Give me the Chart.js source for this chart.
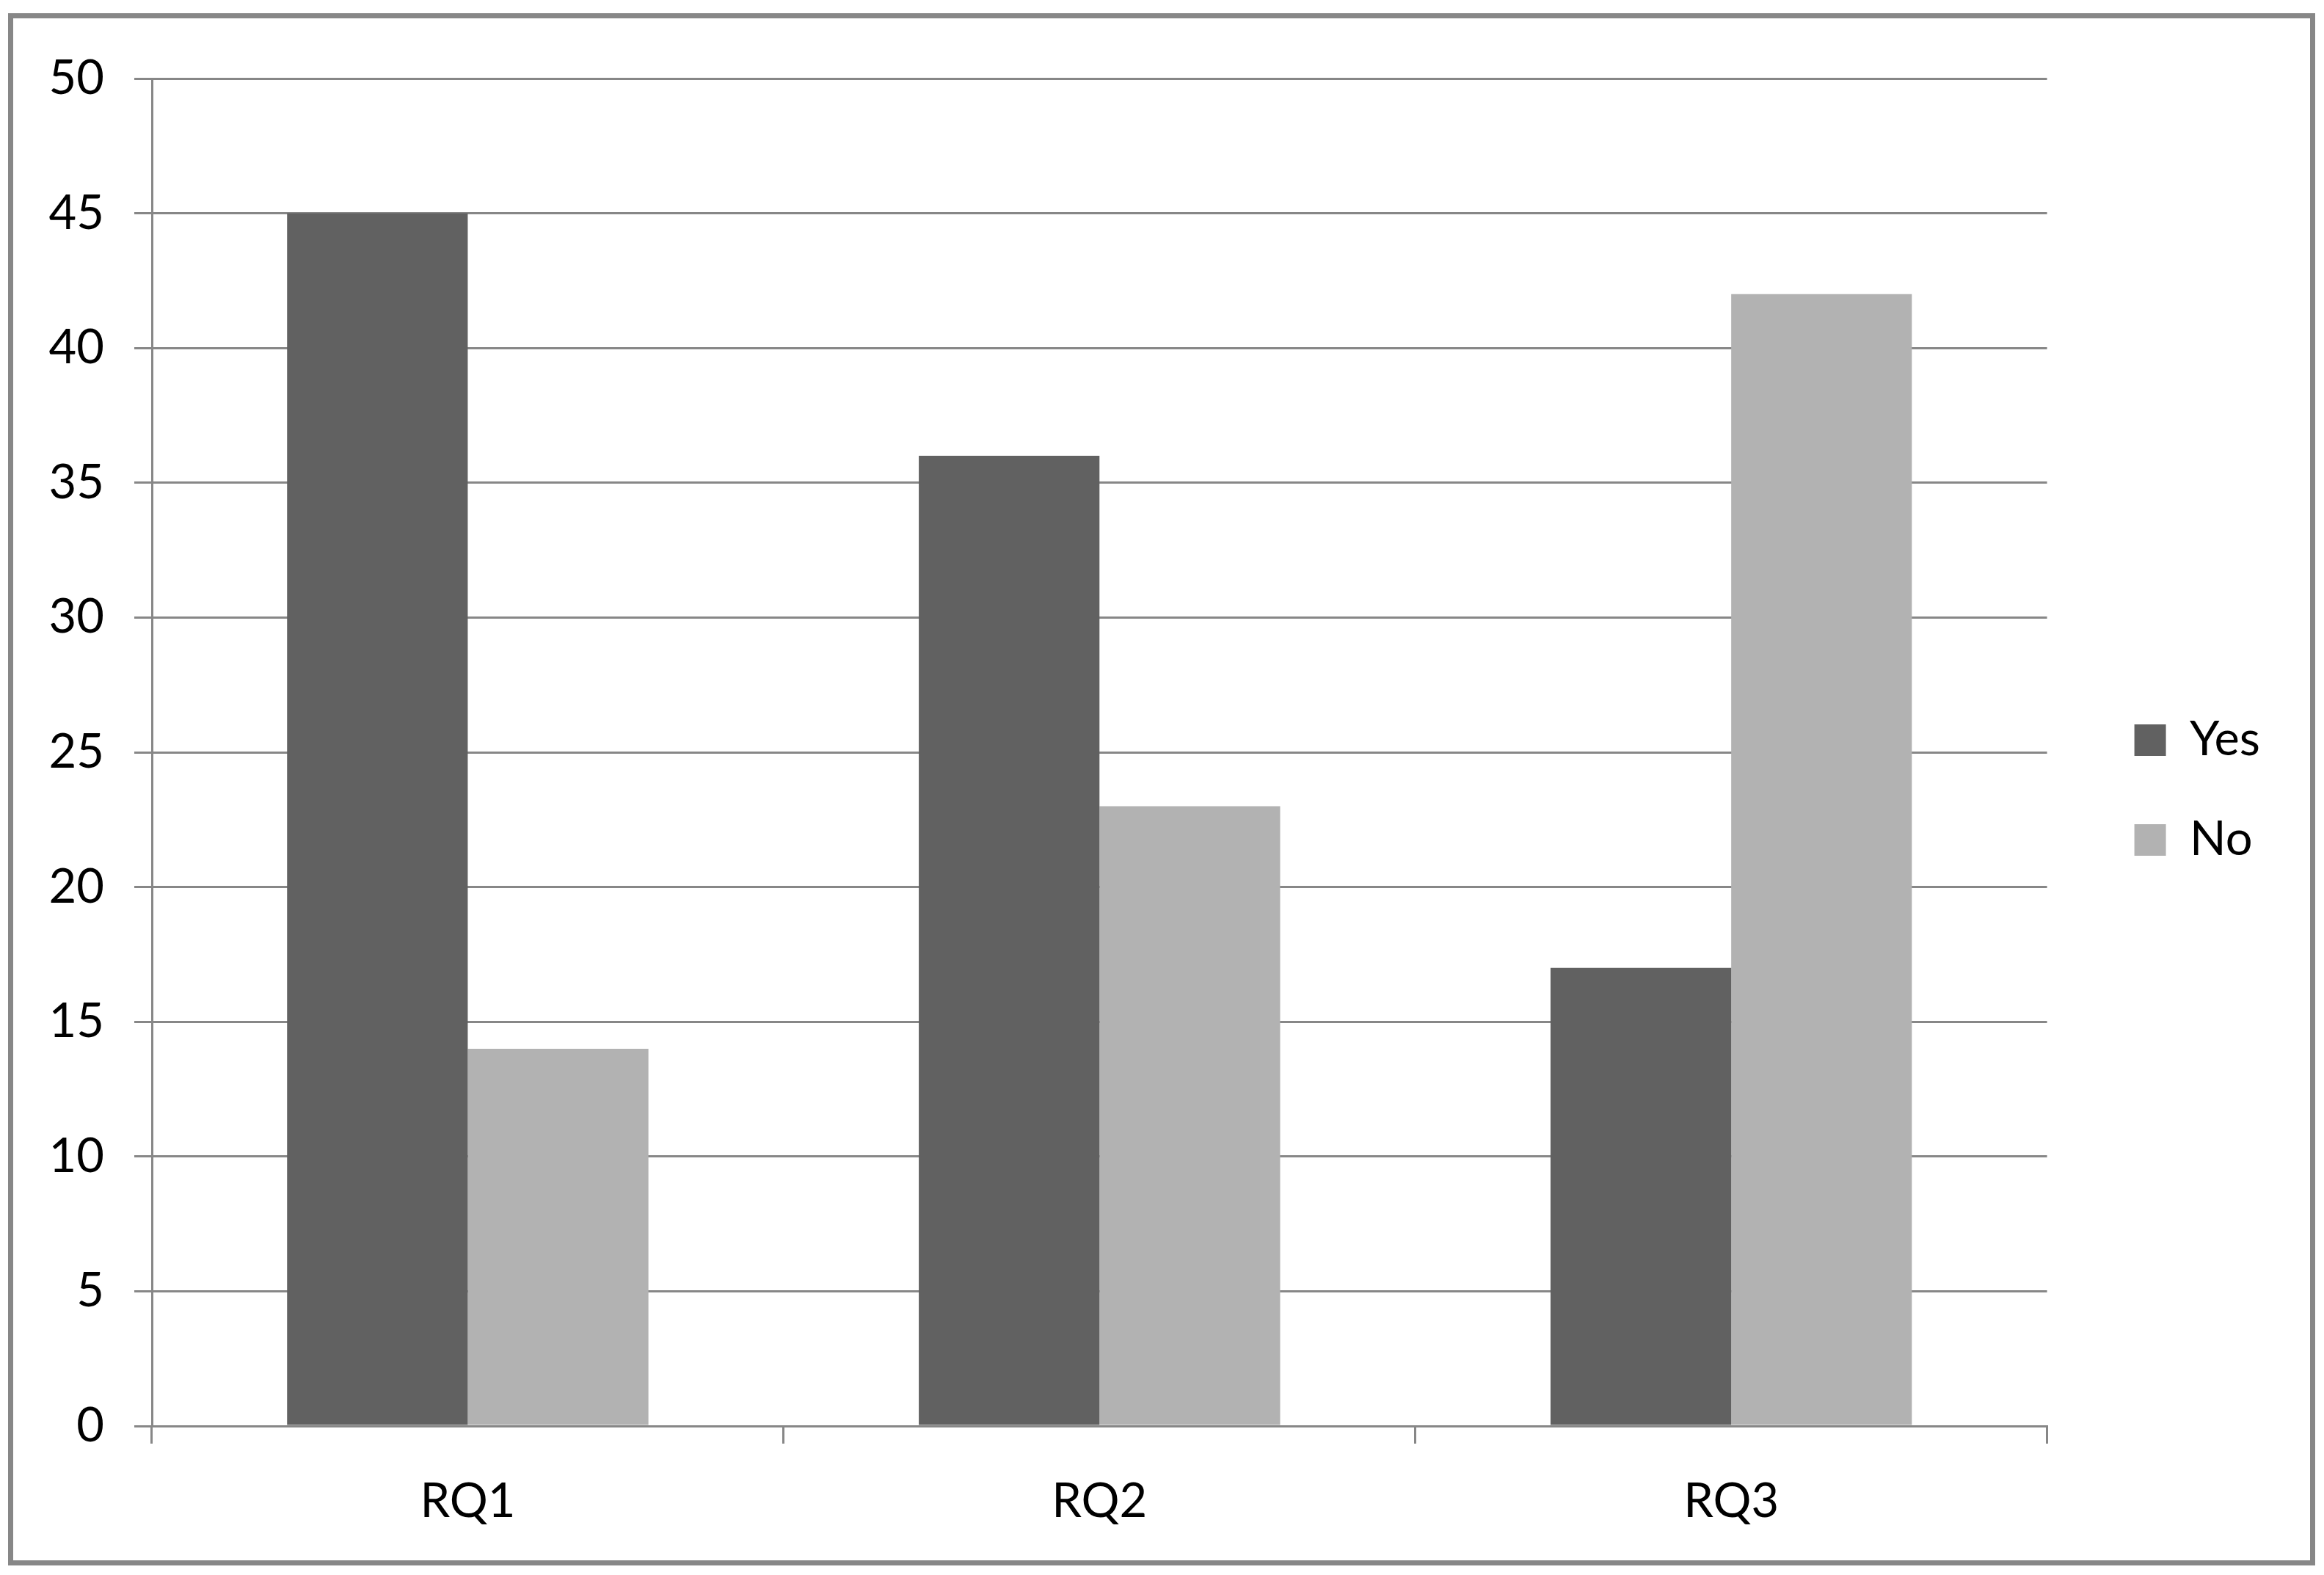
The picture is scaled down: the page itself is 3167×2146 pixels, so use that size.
<!DOCTYPE html>
<html>
<head>
<meta charset="utf-8">
<script src="https://cdn.jsdelivr.net/npm/chart.js@4.4.0/dist/chart.umd.min.js"></script>
<style>
  html, body { margin: 0; padding: 0; background: #fff; }
  #frame {
    position: absolute; left: 11px; top: 18px;
    width: 3144px; height: 2115px;
    box-sizing: border-box; border: 7px solid #878787; background: #fff;
  }
  #chart { display: block; }
</style>
</head>
<body>
<div id="frame"><canvas id="chart" width="3130" height="2101"></canvas></div>
<script>
  const categories = ['RQ1', 'RQ2', 'RQ3'];
  const seriesNames = ['Yes', 'No'];
  const yesValues = [45, 36, 17];
  const noValues = [14, 23, 42];
  const yMin = 0;
  const yMax = 50;
  const yStep = 5;

  const gridColor = '#878787';

  // excel puts the legend a bit away from the plot, chart.js glues it on
  const legendNudge = {
    id: 'legendNudge',
    afterLayout(chart) {
      const lg = chart.legend;
      if (!lg) return;
      lg.left += 48; lg.right += 48;
      lg.top -= 40; lg.bottom -= 40;
    }
  };

  Chart.defaults.font.family = 'Lato';
  Chart.defaults.color = '#000';

  const ctx = document.getElementById('chart').getContext('2d');

  new Chart(ctx, {
    type: 'bar',
    data: {
      labels: categories,
      datasets: [
        { label: seriesNames[0], data: yesValues, backgroundColor: '#616161', borderWidth: 0 },
        { label: seriesNames[1], data: noValues, backgroundColor: '#b2b2b2', borderWidth: 0 }
      ]
    },
    options: {
      responsive: false,
      animation: false,
      layout: { padding: { top: 82, right: 106, bottom: 0, left: 0 } },
      datasets: {
        bar: { categoryPercentage: 0.572, barPercentage: 1 }
      },
      plugins: {
        legend: {
          display: true,
          position: 'right',
          labels: {
            boxWidth: 43,
            boxHeight: 43,
            padding: 71,
            font: { size: 65 }
          }
        },
        title: { display: false },
        tooltip: { enabled: false }
      },
      scales: {
        x: {
          grid: {
            offset: true,
            drawOnChartArea: false,
            color: gridColor,
            lineWidth: 3,
            tickLength: 24
          },
          border: { color: gridColor, width: 3 },
          ticks: { font: { size: 65 }, padding: 40 },
          afterFit(scale) { scale.height = 183; }
        },
        y: {
          min: yMin,
          max: yMax,
          grid: { color: gridColor, lineWidth: 3, tickLength: 24 },
          border: { color: gridColor, width: 3 },
          ticks: { stepSize: yStep, font: { size: 65 }, padding: 41 },
          afterFit(scale) { scale.width = 189; }
        }
      }
    },
    plugins: [legendNudge]
  });
</script>
</body>
</html>
